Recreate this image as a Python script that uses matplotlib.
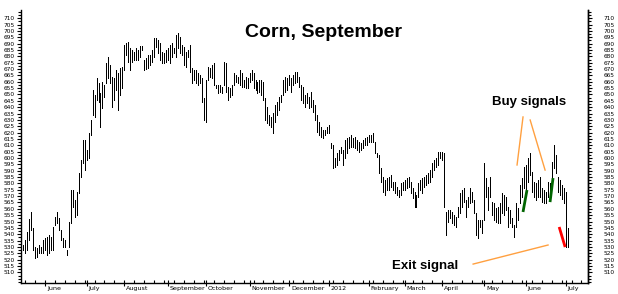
import numpy as np
import matplotlib
matplotlib.use("Agg")
import matplotlib.pyplot as plt
from matplotlib.ticker import MultipleLocator
import matplotlib.transforms as mtransforms

# ---------------- data (daily high / low, cents per bushel) ----------------
highs = [
    531.5, 535.4, 541.7, 552.0, 557.5, 544.9, 529.9, 529.1, 531.5, 529.9, 535.4, 537.0, 537.8, 539.4, 537.8,
    545.7, 553.5, 557.5, 552.7, 543.3, 537.0, 535.4, 527.5, 549.6, 574.8, 574.8, 566.9, 573.2, 588.2, 598.4,
    614.2, 614.2, 606.3, 619.7, 629.9, 653.5, 649.6, 663.0, 659.1, 651.2, 659.8, 657.5, 674.8, 679.5, 673.2,
    663.8, 663.0, 669.3, 666.9, 670.9, 671.6, 689.0, 690.5, 691.3, 686.6, 685.0, 683.5, 686.6, 685.0, 688.2,
    688.2,
    677.2, 678.7, 681.1, 681.1, 685.0, 694.5, 694.5, 692.9, 690.5, 683.5, 682.7, 685.0, 686.6, 689.0, 690.5,
    686.6, 696.8, 698.4, 695.3, 689.0, 687.4, 683.5, 685.0, 689.0, 670.9, 669.3, 669.3, 666.9, 665.3, 663.0,
    647.2, 661.4, 671.6, 670.9, 673.2, 674.8, 657.5, 657.5, 657.5, 655.9, 675.6, 674.8, 655.9, 655.1, 657.5,
    666.9, 665.3, 663.8, 669.3, 666.9, 661.4, 663.8, 663.0, 666.9, 669.3, 666.9,
    661.4, 659.8, 661.4, 661.4, 659.8, 647.2, 640.1, 633.8, 632.3, 635.4, 641.7, 644.1, 648.0, 649.6, 661.4,
    663.8, 663.0, 665.3, 663.0, 665.3, 667.7, 667.7, 663.8, 657.5, 655.9, 649.6, 651.2, 648.0, 652.0, 645.7,
    641.7, 633.8, 628.3, 624.4, 622.0, 622.0, 624.4, 626.0, 611.8, 610.2, 600.0, 603.9, 606.3, 608.7, 606.3,
    614.2, 615.7, 616.5, 618.1, 615.7, 616.5, 614.2, 612.6, 611.8, 614.2, 615.7, 616.5, 618.1,
    618.1, 619.7, 612.6, 603.9, 602.4, 592.1, 585.0, 582.7, 584.2, 585.0, 586.6, 581.1, 581.1, 577.2, 574.8,
    580.3, 581.1, 582.7, 584.2, 585.0, 581.1, 576.4, 573.2, 570.9, 580.3, 582.7, 584.2, 585.0, 586.6, 588.2,
    590.5, 596.1, 598.4, 600.0, 604.7, 604.7, 604.7, 603.9, 557.5, 559.0, 559.0, 557.5, 555.1, 553.5, 561.4,
    572.4, 574.8, 576.4, 566.9, 569.3, 576.4, 573.2, 566.9, 556.7, 551.2, 551.2,
    551.2, 596.1, 584.2, 577.2, 585.0, 565.3, 564.6, 560.6, 561.4, 564.6, 572.4, 570.9, 569.3, 561.4, 559.0,
    552.7, 547.2, 564.6, 560.6, 578.7, 584.2, 592.9, 594.5, 600.0, 603.9, 588.9, 581.1, 580.3, 582.7, 585.0,
    576.4, 574.8, 573.2, 581.1, 580.3, 596.8, 610.2, 602.4, 585.0, 582.7, 578.7, 576.4, 573.2, 544.9,
]
lows = [
    527.5, 525.2, 527.5, 535.4, 543.3, 527.5, 521.3, 522.0, 525.2, 525.2, 525.2, 527.5, 523.6, 525.2, 527.5,
    527.5, 547.2, 548.8, 543.3, 535.4, 529.9, 529.9, 523.6, 529.9, 548.8, 561.4, 553.5, 555.1, 572.4, 585.0,
    596.1, 590.5, 598.4, 600.0, 618.1, 633.8, 632.3, 645.7, 644.1, 624.4, 639.4, 648.0, 659.1, 663.0, 659.1,
    640.1, 645.7, 653.5, 637.8, 649.6, 655.1, 669.3, 681.1, 675.6, 669.3, 675.6, 677.2, 677.2, 677.2, 679.5,
    685.0,
    669.3, 670.1, 670.9, 673.2, 675.6, 679.5, 687.4, 682.7, 677.2, 674.8, 674.8, 675.6, 677.2, 674.8, 679.5,
    682.7, 679.5, 686.6, 682.7, 681.1, 673.2, 671.6, 679.5, 667.7, 659.1, 661.4, 659.1, 657.5, 659.1, 644.1,
    629.9, 628.3, 661.4, 663.8, 663.0, 657.5, 655.1, 651.2, 652.0, 651.2, 657.5, 652.0, 645.7, 648.0, 649.6,
    657.5, 659.8, 659.1, 657.5, 655.9, 655.9, 655.1, 655.1, 659.8, 661.4, 655.1,
    653.5, 651.2, 652.0, 649.6, 645.7, 629.9, 627.5, 626.0, 624.4, 619.7, 628.3, 633.8, 637.8, 644.1, 649.6,
    652.0, 653.5, 657.5, 652.0, 657.5, 659.1, 659.8, 655.9, 645.7, 643.3, 640.1, 643.3, 639.4, 640.1, 636.2,
    629.9, 620.5, 618.1, 616.5, 615.7, 618.1, 619.7, 619.7, 607.9, 592.1, 592.9, 594.5, 598.4, 603.9, 594.5,
    600.0, 603.9, 607.9, 608.7, 608.7, 607.9, 606.3, 604.7, 606.3, 607.9, 610.2, 610.2, 612.6,
    612.6, 612.6, 603.9, 600.8, 588.2, 581.1, 573.2, 570.9, 574.8, 574.8, 577.2, 574.8, 572.4, 570.9, 569.3,
    570.9, 574.8, 574.8, 576.4, 577.2, 572.4, 568.5, 561.4, 561.4, 569.3, 574.8, 572.4, 577.2, 578.7, 580.3,
    581.1, 585.0, 590.5, 592.9, 594.5, 600.0, 598.4, 561.4, 539.4, 549.6, 552.7, 548.8, 547.2, 545.7, 553.5,
    556.7, 561.4, 565.3, 553.5, 561.4, 564.6, 565.3, 556.7, 539.4, 537.0, 545.7,
    540.9, 551.2, 569.3, 559.0, 569.3, 555.1, 551.2, 549.6, 548.8, 548.8, 556.7, 555.1, 559.0, 545.7, 548.8,
    545.7, 537.8, 545.7, 551.2, 564.6, 569.3, 576.4, 574.8, 581.1, 586.6, 573.2, 569.3, 566.9, 569.3, 569.3,
    565.3, 564.6, 564.6, 569.3, 566.9, 578.7, 592.1, 588.2, 573.2, 570.9, 567.7, 564.6, 529.9, 529.9,
]

month_labels = ["June", "July", "August", "September", "October", "November", "December",
                "2012", "February", "March", "April", "May", "June", "July"]
month_start_bar = [11, 32, 51, 73, 92, 114, 134, 154, 174, 192, 211, 232, 253, 273]

y_tick_values = list(range(510, 715, 5))

# signal marks (bar index, price)
buy_signal_bars = [[251.6, 253.6], [265.2, 266.7]]
buy_signal_prices = [[557.5, 574.8], [565.3, 584.2]]
exit_signal_bars = [269.8, 272.8]
exit_signal_prices = [545.7, 529.9]
buy_pointer_bars = [[248.6, 251.6], [255.2, 262.7]]
buy_pointer_prices = [[594.5, 632.3], [629.9, 590.5]]
exit_pointer_bars = [226.5, 264.2]
exit_pointer_prices = [516.5, 531.5]

# ---------------- figure ----------------
W, H = 618, 294
fig = plt.figure(figsize=(W / 100, H / 100), dpi=100)
fig.patch.set_facecolor("white")
Lp, Rp, Tp, Bp = 21, 588, 10, 283
ax = fig.add_axes([Lp / W, 1 - Bp / H, (Rp - Lp) / W, (Bp - Tp) / H])

x = np.arange(len(highs))
ax.vlines(x, lows, highs, color="black", lw=0.6, antialiased=False)

ax.set_xlim(-1.0, 284.3)
ax.set_ylim(501.6, 716.5)

for s in ["left", "right", "bottom"]:
    ax.spines[s].set_linewidth(1.0)
    ax.spines[s].set_color("black")
ax.spines["top"].set_visible(False)

tick_font = dict(family="DejaVu Sans")
# left y axis
ax.set_yticks(y_tick_values)
ax.set_yticklabels([str(v) for v in y_tick_values], fontsize=4.2, **tick_font)
ax.yaxis.set_minor_locator(MultipleLocator(2.5))
ax.tick_params(axis="y", which="major", direction="out", length=3, width=0.8, pad=1.5)
ax.tick_params(axis="y", which="minor", direction="out", length=2, width=0.8)

# right y axis
sec = ax.secondary_yaxis("right")
sec.set_yticks(y_tick_values)
sec.set_yticklabels([str(v) for v in y_tick_values], fontsize=4.2, **tick_font)
sec.yaxis.set_minor_locator(MultipleLocator(2.5))
sec.tick_params(axis="y", which="major", direction="out", length=3, width=0.8, pad=8)
sec.tick_params(axis="y", which="minor", direction="out", length=2, width=0.8)
sec.spines["right"].set_linewidth(1.0)

# x axis
ax.set_xticks(month_start_bar)
ax.set_xticklabels(month_labels, ha="left", fontsize=4.6, **tick_font)
ax.xaxis.set_minor_locator(MultipleLocator(5, offset=1))
ax.tick_params(axis="x", which="major", direction="inout", length=5, width=0.8, pad=0)
ax.tick_params(axis="x", which="minor", direction="in", length=2.5, width=0.8)
offset = mtransforms.ScaledTranslation(2 / 100, 0, fig.dpi_scale_trans)
for lab in ax.get_xticklabels():
    lab.set_transform(lab.get_transform() + offset)

# signals
orange = "#FFA040"
for bx, py in zip(buy_pointer_bars, buy_pointer_prices):
    ax.plot(bx, py, color=orange, lw=1.0)
ax.plot(exit_pointer_bars, exit_pointer_prices, color=orange, lw=1.0)
for bx, py in zip(buy_signal_bars, buy_signal_prices):
    ax.plot(bx, py, color="#006400", lw=2.0, solid_capstyle="butt")
ax.plot(exit_signal_bars, exit_signal_prices, color="#FF0000", lw=2.0, solid_capstyle="butt")

# texts
ax.text(0.533, 0.916, "Corn, September", transform=ax.transAxes, ha="center", va="center",
        fontsize=14, fontweight="bold", family="Liberation Sans")
ax.text(0.896, 0.663, "Buy signals", transform=ax.transAxes, ha="center", va="center",
        fontsize=9.5, fontweight="bold", family="Liberation Sans")
ax.text(0.7125, 0.062, "Exit signal", transform=ax.transAxes, ha="center", va="center",
        fontsize=9.5, fontweight="bold", family="Liberation Sans")

fig.savefig("out.png", dpi=100)
